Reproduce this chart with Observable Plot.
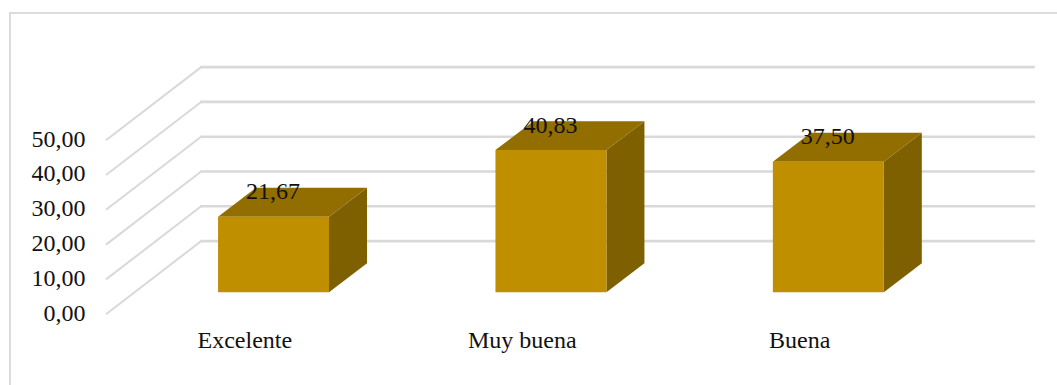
<!DOCTYPE html>
<html lang="es">
<head>
<meta charset="utf-8">
<script src="https://cdn.jsdelivr.net/npm/d3@7"></script>
<script src="https://cdn.jsdelivr.net/npm/@observablehq/plot@0.6"></script>
<style>
  html, body { margin: 0; padding: 0; background: #fff; overflow: hidden; }
  #chart { position: relative; width: 1057px; height: 385px; overflow: hidden; }
  #chart::before {
    content: ""; position: absolute; left: 9px; top: 12px; width: 1200px; height: 600px;
    border: 2px solid #dcdcdc; box-sizing: border-box;
  }
  #chart svg { position: absolute; left: 0; top: 0; background: transparent; }
</style>
</head>
<body>
<div id="chart"></div>
<script>
const categories = ["Excelente", "Muy buena", "Buena"];
const values = [21.67, 40.83, 37.5];
const yTicks = [0, 10, 20, 30, 40, 50];

// Pseudo-3D layout, in scale units: x is the category index, y is the value.
const wallX0 = -0.604, wallX1 = -0.261, wallEnd = 2.745, gridEnd = 2.741, wallLift = 21;
const halfBar = 0.2, barLift = 6.32, depthX = 0.137, depthY = 8.33;

const fmt = (d) => d.toFixed(2).replace(".", ",");

const grid = yTicks.map((v) => ({v}));

// One closed polygon for each visible face of a bar.
const face = (name, i, corners) =>
  corners.map(([x, y]) => ({id: `${name}-${i}`, x: i + x, y: y}));
const faces = (name, builder) =>
  values.flatMap((v, i) => face(name, i, builder(v)));

const frontFaces = faces("front", (v) => [
  [-halfBar, barLift], [halfBar, barLift], [halfBar, barLift + v], [-halfBar, barLift + v]
]);
const topFaces = faces("top", (v) => [
  [-halfBar, barLift + v], [halfBar, barLift + v],
  [halfBar + depthX, barLift + v + depthY], [-halfBar + depthX, barLift + v + depthY]
]);
const sideFaces = faces("side", (v) => [
  [halfBar, barLift], [halfBar + depthX, barLift + depthY],
  [halfBar + depthX, barLift + v + depthY], [halfBar, barLift + v]
]);

const polygon = (data, fill) =>
  Plot.line(data, {x: "x", y: "y", z: "id", fill, stroke: "none", curve: "linear"});

const chart = Plot.plot({
  width: 1057,
  height: 385,
  marginLeft: 106,
  marginRight: 22,
  marginTop: 40,
  marginBottom: 71,
  style: {fontFamily: "'Liberation Serif', serif", fontSize: "24px", color: "#111", background: "transparent"},
  x: {domain: [wallX0, wallEnd], range: [105.5, 1034.5]},
  y: {domain: [0, 50], range: [313.7, 139.7]},
  marks: [
    // Side wall of the plot box, running back from the value axis
    Plot.link(grid, {
      x1: () => wallX0, x2: () => wallX1,
      y1: "v", y2: (d) => d.v + wallLift,
      stroke: "#d9d9d9", strokeWidth: 2
    }),
    // Back wall gridlines
    Plot.link(grid, {
      x1: () => wallX1, x2: () => gridEnd,
      y1: (d) => d.v + wallLift, y2: (d) => d.v + wallLift,
      stroke: "#d9d9d9", strokeWidth: 2.6, strokeLinecap: "round"
    }),
    Plot.axisY(yTicks, {
      anchor: "left", tickSize: 0, tickPadding: 21, dy: -1.2, tickFormat: fmt, label: null, fill: "#111"
    }),
    Plot.axisX([0, 1, 2], {
      anchor: "bottom", tickSize: 0, tickPadding: 16.5, dx: -28.7,
      tickFormat: (d) => categories[d], label: null, fill: "#111"
    }),
    polygon(sideFaces, "#7f6000"),
    polygon(topFaces, "#926d00"),
    polygon(frontFaces, "#bf8f00"),
    Plot.text(values, {
      x: (d, i) => i,
      y: (d) => d + barLift,
      text: fmt,
      dy: -25.2,
      dx: -0.5,
      fill: "#111",
      fontSize: 24
    })
  ]
});

document.getElementById("chart").appendChild(chart);
</script>
</body>
</html>
